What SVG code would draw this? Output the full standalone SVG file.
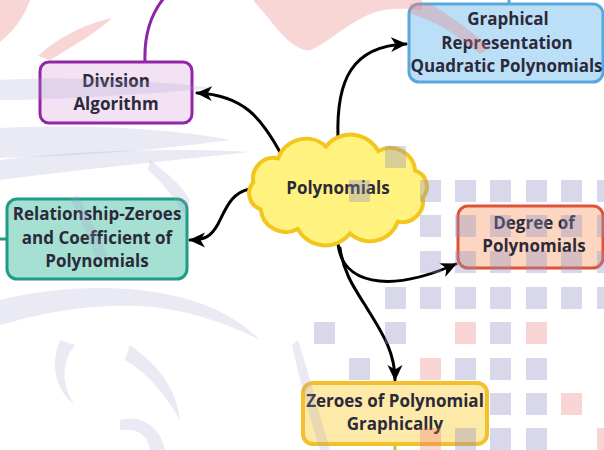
<svg xmlns="http://www.w3.org/2000/svg" width="604" height="450" viewBox="0 0 604 450">
<defs>
<style>
.t{font-family:"Open Sans","Noto Sans","DejaVu Sans",sans-serif;font-weight:700;font-size:17px;fill:#2c2a3a;text-anchor:middle}
.conn{fill:none;stroke:#000;stroke-width:3;stroke-linecap:round}
.box{stroke-width:3}
.wl{fill:#8e8ec4;fill-opacity:.35}
.wp{fill:#e87070;fill-opacity:.3}
.ws{fill:#a0a0cc;fill-opacity:.22}
.wr{fill:#e88080;fill-opacity:.32}
</style>
<marker id="ah" markerUnits="userSpaceOnUse" markerWidth="17" markerHeight="17" viewBox="0 0 17 17" refX="15" refY="8.5" orient="auto">
<path d="M0,1 L16,8.5 L0,16 L4.5,8.5 Z" fill="#000"/>
</marker>
</defs>
<rect width="604" height="450" fill="#fff"/>

<g id="connectors">
<path class="conn" d="M280,152 C262,120 245,95 197,93" marker-end="url(#ah)"/>
<path class="conn" d="M338,138 C336,80 352,46 406,44" marker-end="url(#ah)"/>
<path class="conn" d="M250,189 C232,192 226,208 218,224 C211,237 204,240 190,240" marker-end="url(#ah)"/>
<path class="conn" d="M338,244 C342,282 385,295 456,264" marker-end="url(#ah)"/>
<path class="conn" d="M340,248 C343,270 352,285 365,305 C380,330 395,350 395,380" marker-end="url(#ah)"/>
<path fill="none" stroke="#8e24a8" stroke-width="3" d="M145,62 C144,35 150,15 164,-2"/>
<path fill="none" stroke="#58a8e0" stroke-width="3" d="M509,0 L509,5"/>
<path fill="none" stroke="#1f9c88" stroke-width="3" d="M0,239 L8,239"/>
<path fill="none" stroke="#b5c94a" stroke-width="3" d="M395,444 L395,450"/>
</g>

<g id="polynomials">
<path fill="#fff27f" stroke="#f3c51f" stroke-width="4" d="M422.7,197.6 A20.8,20.8 0 0 1 397.8,221.6 A29.6,29.6 0 0 1 350,233.6 A31.5,31.5 0 0 1 297.7,228.9 A25.1,25.1 0 0 1 260.7,209.3 A16.7,16.7 0 0 1 253.3,182.4 A20.8,20.8 0 0 1 278.2,158.4 A29.6,29.6 0 0 1 326,146.4 A31.5,31.5 0 0 1 378.3,151.1 A25.1,25.1 0 0 1 415.3,170.7 A16.7,16.7 0 0 1 422.7,197.6 Z"/>
<text class="t" x="338" y="194">Polynomials</text>
</g>

<g id="division">
<rect class="box" x="40" y="62" width="152" height="61" rx="9" fill="#f3e2f4" stroke="#9126a8"/>
<text class="t" x="116" y="87">Division</text>
<text class="t" x="116" y="110">Algorithm</text>
</g>

<g id="graphical">
<rect class="box" x="409" y="4" width="194" height="78" rx="10" fill="#bcdff8" stroke="#58a8e0"/>
<text class="t" x="508" y="25">Graphical</text>
<text class="t" x="507" y="48.5">Representation</text>
<text class="t" x="506.5" y="72" textLength="192" lengthAdjust="spacing">Quadratic Polynomials</text>
</g>

<g id="relationship">
<rect class="box" x="7" y="199" width="180" height="80" rx="10" fill="#a5e0d3" stroke="#1f9c88"/>
<text class="t" x="97" y="220">Relationship-Zeroes</text>
<text class="t" x="97" y="244">and Coefficient of</text>
<text class="t" x="97" y="267">Polynomials</text>
</g>

<g id="degree">
<rect class="box" x="458" y="206" width="145" height="62" rx="10" fill="#fcd6c0" stroke="#e0533a"/>
<text class="t" x="534" y="229">Degree of</text>
<text class="t" x="534" y="252">Polynomials</text>
</g>

<g id="zeroes">
<rect x="303" y="383" width="184" height="61" rx="10" fill="#fde9a8" stroke="#f1c02a" stroke-width="4"/>
<text class="t" x="395" y="407">Zeroes of Polynomial</text>
<text class="t" x="395" y="430">Graphically</text>
</g>

<g id="watermark">
<path class="wr" d="M253,0 L270,20 C285,40 300,52 310,50 C325,45 345,25 370,14 C385,8 400,8 422,10 L422,0 Z"/>
<path class="wr" d="M410,4 L430,4 C450,15 470,30 490,48 L480,54 C460,38 440,22 410,14 Z"/>
<path class="wr" d="M0,0 L30,0 C25,15 15,30 0,42 Z"/>
<path class="wr" d="M38,56 C55,40 80,25 112,18 C100,30 75,45 50,60 Z"/>
<path class="ws" d="M0,80 C60,76 150,80 215,88 C150,94 60,100 0,100 Z"/>
<path class="ws" d="M0,128 C80,124 170,128 230,140 C160,150 80,156 0,158 Z"/>
<path class="ws" d="M0,160 C80,150 180,148 250,152 C180,160 90,168 0,180 Z"/>
<path class="ws" d="M78,195 C88,215 98,235 108,255 L96,258 C88,238 80,218 70,198 Z"/>
<path class="ws" d="M150,160 C162,170 178,180 190,200 L185,215 C172,195 160,180 148,170 Z"/>
<path class="ws" d="M0,300 C40,290 90,285 140,290 C190,296 230,310 260,340 C220,320 180,308 140,306 C90,304 45,312 0,325 Z"/>
<path class="ws" d="M60,340 C50,365 55,390 75,405 C60,385 62,360 75,345 Z"/>
<path class="ws" d="M130,345 C150,360 175,380 180,420 C165,395 150,375 125,360 Z"/>
<path class="ws" d="M120,420 C140,415 160,425 165,450 L150,450 C148,435 138,428 120,430 Z"/>
<path class="ws" d="M298,340 C308,370 318,410 330,450 L320,450 C308,412 298,372 292,345 Z"/>
<g class="wl">
<rect x="385" y="146" width="21" height="22"/>
<rect x="349" y="180" width="21" height="22"/>
<rect x="420" y="180" width="21" height="22"/><rect x="455" y="180" width="21" height="22"/><rect x="490" y="180" width="21" height="22"/><rect x="526" y="180" width="21" height="22"/><rect x="561" y="180" width="21" height="22"/><rect x="597" y="180" width="21" height="22"/>
<rect x="420" y="215" width="21" height="22"/><rect x="455" y="215" width="21" height="22"/><rect x="490" y="215" width="21" height="22"/><rect x="526" y="215" width="21" height="22"/><rect x="561" y="215" width="21" height="22"/><rect x="597" y="215" width="21" height="22"/>
<rect x="420" y="251" width="21" height="22"/><rect x="455" y="251" width="21" height="22"/><rect x="490" y="251" width="21" height="22"/><rect x="526" y="251" width="21" height="22"/><rect x="561" y="251" width="21" height="22"/><rect x="597" y="251" width="21" height="22"/>
<rect x="385" y="287" width="21" height="22"/><rect x="420" y="287" width="21" height="22"/><rect x="455" y="287" width="21" height="22"/><rect x="490" y="287" width="21" height="22"/><rect x="526" y="287" width="21" height="22"/><rect x="561" y="287" width="21" height="22"/><rect x="597" y="287" width="21" height="22"/>
<rect x="314" y="322" width="21" height="22"/><rect x="385" y="322" width="21" height="22"/><rect x="490" y="322" width="21" height="22"/>
<rect x="349" y="358" width="21" height="22"/><rect x="455" y="358" width="21" height="22"/><rect x="490" y="358" width="21" height="22"/><rect x="526" y="358" width="21" height="22"/>
<rect x="490" y="393" width="21" height="22"/><rect x="526" y="393" width="21" height="22"/>
<rect x="455" y="428" width="21" height="22"/><rect x="490" y="428" width="21" height="22"/><rect x="526" y="428" width="21" height="22"/>
</g>
<g class="wp">
<rect x="455" y="322" width="21" height="22"/><rect x="526" y="322" width="21" height="22"/>
<rect x="420" y="358" width="21" height="22"/>
<rect x="561" y="393" width="21" height="22"/>
<rect x="420" y="428" width="21" height="22"/><rect x="597" y="428" width="21" height="22"/>
</g>
</g>
</svg>
